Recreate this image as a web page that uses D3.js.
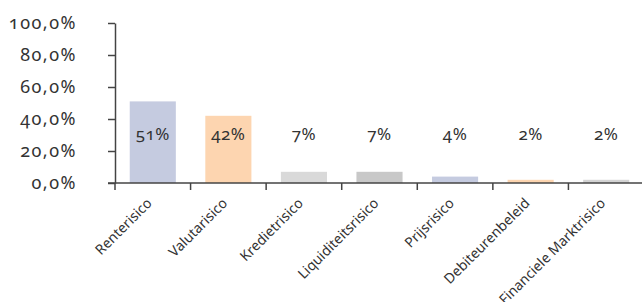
<!DOCTYPE html>
<html>
<head>
<meta charset="utf-8">
<script src="https://cdn.jsdelivr.net/npm/d3@7"></script>
<style>
  body { margin: 0; background: #fff; }
  text { font-family: "Noto Sans", sans-serif; fill: #333; font-variant-numeric: oldstyle-nums; }
</style>
</head>
<body>
<div id="chart"></div>
<script>
// chart data
const categories = ['Renterisico', 'Valutarisico', 'Kredietrisico', 'Liquiditeitsrisico', 'Prijsrisico', 'Debiteurenbeleid', 'Financiele Marktrisico'];
const values = [51, 42, 7, 7, 4, 2, 2];
const barLabels = ['51%', '42%', '7%', '7%', '4%', '2%', '2%'];
const barColors = ['#c5cbe0', '#fdd5b0', '#d9d9d9', '#c8c8c8', '#c5cbe0', '#fdd5b0', '#d3d3d3'];
const yTicks = [0, 20, 40, 60, 80, 100];

const W = 642, H = 302;
const plotLeft = 115, plotRight = 644, plotTop = 23, plotBottom = 183;

const svg = d3.select('#chart').append('svg')
    .attr('width', W)
    .attr('height', H);

const x = d3.scaleBand()
    .domain(categories)
    .range([plotLeft, plotRight])
    .paddingInner(0.39)
    .paddingOuter(0.195);

const y = d3.scaleLinear()
    .domain([0, 100])
    .range([plotBottom, plotTop]);

// bars
svg.selectAll('rect.bar')
    .data(categories)
    .enter()
    .append('rect')
    .attr('class', 'bar')
    .attr('x', d => x(d))
    .attr('y', (d, i) => y(values[i]))
    .attr('width', x.bandwidth())
    .attr('height', (d, i) => y(0) - y(values[i]))
    .attr('fill', (d, i) => barColors[i]);

// y axis
const yAxis = d3.axisLeft(y)
    .tickValues(yTicks)
    .tickSize(7)
    .tickSizeOuter(0)
    .tickPadding(31)
    .tickFormat(d => d3.format('.1f')(d).replace('.', ',') + '%');

const gy = svg.append('g')
    .attr('transform', `translate(${plotLeft},0)`)
    .call(yAxis);
gy.select('.domain').attr('stroke', '#444').attr('stroke-width', 1.5);
gy.selectAll('.tick line').attr('stroke', '#444').attr('stroke-width', 1.5);
gy.selectAll('.tick text')
    .attr('font-size', 18)
    .attr('letter-spacing', 1.5)
    .attr('font-family', '"Noto Sans", sans-serif')
    .attr('fill', '#333');

// x axis line
svg.append('line')
    .attr('x1', plotLeft - 7)
    .attr('x2', W)
    .attr('y1', y(0))
    .attr('y2', y(0))
    .attr('stroke', '#444')
    .attr('stroke-width', 1.5);

// x ticks at band boundaries
const offset = x.paddingOuter() * x.step();
svg.selectAll('line.xtick')
    .data(categories)
    .enter()
    .append('line')
    .attr('class', 'xtick')
    .attr('x1', d => x(d) - offset)
    .attr('x2', d => x(d) - offset)
    .attr('y1', y(0))
    .attr('y2', y(0) + 7)
    .attr('stroke', '#444')
    .attr('stroke-width', 1.5);

// category labels
svg.selectAll('text.cat')
    .data(categories)
    .enter()
    .append('text')
    .attr('class', 'cat')
    .attr('font-size', 14)
    .attr('text-anchor', 'end')
    .attr('transform', d => `translate(${x(d) + x.bandwidth() / 2},${y(0) + 21}) rotate(-45)`)
    .text(d => d);

// value labels
svg.selectAll('text.val')
    .data(categories)
    .enter()
    .append('text')
    .attr('class', 'val')
    .attr('font-size', 17)
    .attr('letter-spacing', 0.5)
    .attr('text-anchor', 'middle')
    .attr('x', d => x(d) + x.bandwidth() / 2)
    .attr('y', 140)
    .text((d, i) => barLabels[i]);
</script>
</body>
</html>
